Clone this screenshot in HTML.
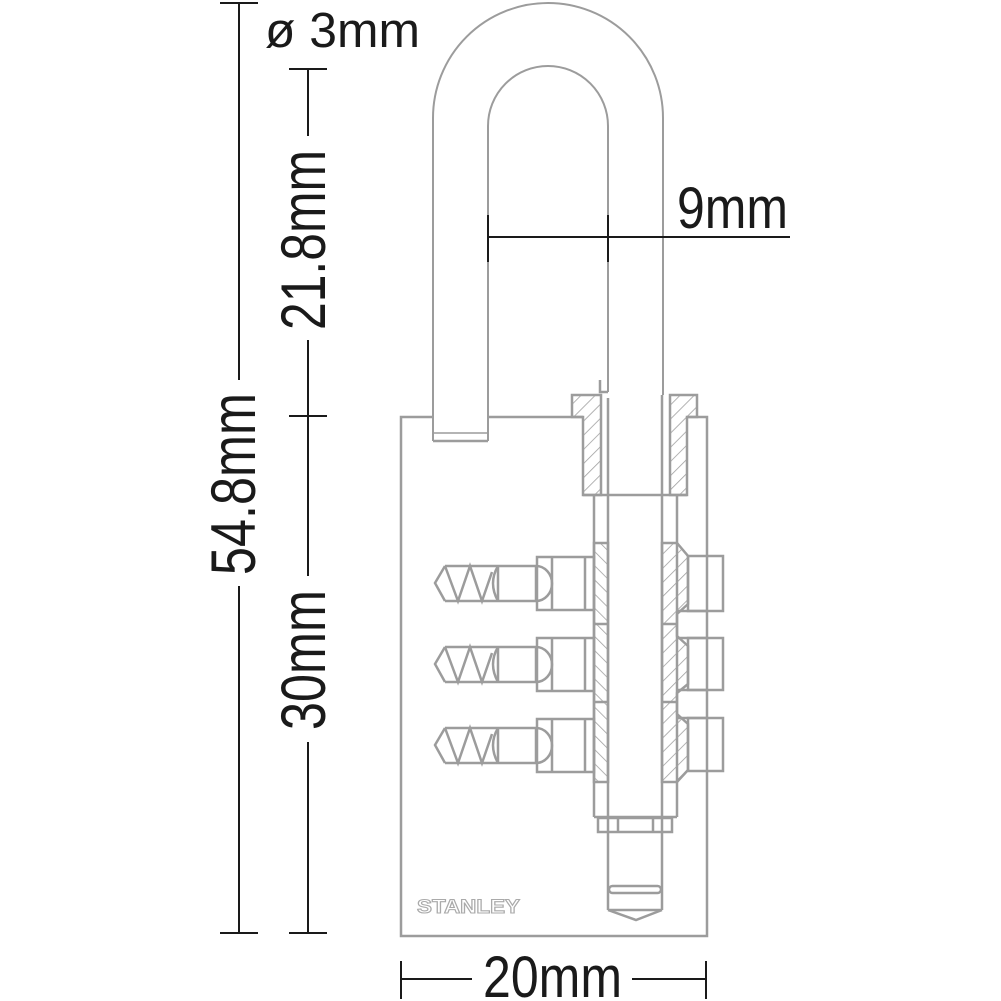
<!DOCTYPE html>
<html><head><meta charset="utf-8"><style>html,body{margin:0;padding:0;background:#fff}svg{display:block}</style></head><body>
<svg width="1001" height="1001" viewBox="0 0 1001 1001" xmlns="http://www.w3.org/2000/svg">
<defs>
<pattern id="h" patternUnits="userSpaceOnUse" width="10" height="10" patternTransform="rotate(45)">
<line x1="0" y1="0" x2="0" y2="10" stroke="#a0a0a0" stroke-width="1.6"/>
</pattern>
<pattern id="h2" patternUnits="userSpaceOnUse" width="10" height="10" patternTransform="rotate(-45)">
<line x1="0" y1="0" x2="0" y2="10" stroke="#a0a0a0" stroke-width="1.6"/>
</pattern>
<g id="pin">
<polyline points="445,566 435,583 445,601" />
<line x1="445" y1="566" x2="498" y2="566"/>
<line x1="445" y1="601" x2="498" y2="601"/>
<polyline points="445,566 458,601 470,566 482,601 492,572"/>
<path d="M498,566 Q488,583 498,601"/>
<line x1="498" y1="566" x2="498" y2="601"/>
<line x1="498" y1="566" x2="536" y2="566"/>
<line x1="498" y1="601" x2="536" y2="601"/>
<line x1="536" y1="566" x2="536" y2="601"/>
<path d="M536,566 A16,17.5 0 0 1 536,601"/>
<rect x="537" y="557" width="57" height="53"/>
<line x1="552" y1="557" x2="552" y2="610"/>
<line x1="585" y1="557" x2="585" y2="610"/>
</g>
</defs>

<g fill="none" stroke="#9c9c9c" stroke-width="2.5">
<path d="M433,441 L433,118 A115,115 0 0 1 663,118 L663,395" stroke-width="2"/>
<path d="M488,441 L488,126 A60,60 0 0 1 608,126 L608,392" stroke-width="2"/>
<line x1="433" y1="441" x2="488" y2="441"/>
<line x1="433" y1="433" x2="488" y2="433" stroke-width="1.5"/>
<polyline points="600,380 600,392 608,392"/>
<polyline points="433,417 401,417 401,936 707,936 707,417 687,417"/>
<line x1="488" y1="417" x2="583" y2="417"/>
<path d="M572,395 L601,395 L601,495 L583,495 L583,417 L572,417 Z" fill="url(#h)"/>
<path d="M670,395 L697,395 L697,417 L687,417 L687,495 L670,495 Z" fill="url(#h)"/>
<line x1="583" y1="495" x2="687" y2="495"/>
<line x1="608" y1="398" x2="608" y2="910"/>
<line x1="662" y1="395" x2="662" y2="910"/>
<line x1="594" y1="495" x2="594" y2="817"/>
<line x1="677" y1="495" x2="677" y2="817"/>
<line x1="594" y1="817" x2="677" y2="817"/>
<rect x="594" y="543" width="14" height="239" fill="url(#h2)"/>
<line x1="594" y1="624" x2="608" y2="624"/>
<line x1="594" y1="702" x2="608" y2="702"/>
<path d="M662,543 L677,543 L688,556 L688,604 L677,614 L677,636 L688,646 L688,684 L677,693 L677,714 L688,724 L688,770 L677,782 L662,782 Z" fill="url(#h)"/>
<line x1="662" y1="624" x2="677" y2="624"/>
<line x1="662" y1="702" x2="677" y2="702"/>
<rect x="688" y="556" width="35" height="55"/>
<rect x="688" y="638" width="35" height="52"/>
<rect x="688" y="718" width="35" height="53"/>
<line x1="677" y1="611" x2="707" y2="611"/>
<line x1="677" y1="638" x2="707" y2="638"/>
<line x1="677" y1="690" x2="707" y2="690"/>
<line x1="677" y1="718" x2="707" y2="718"/>
<rect x="598" y="818" width="74" height="14"/>
<line x1="618" y1="818" x2="618" y2="832"/>
<line x1="653" y1="818" x2="653" y2="832"/>
<polyline points="608,910 636,920 662,910"/>
<line x1="608" y1="910" x2="662" y2="910"/>
<rect x="609" y="886" width="52" height="7" rx="3.5"/>
<use href="#pin"/>
<use href="#pin" y="81"/>
<use href="#pin" y="162"/>
</g>
<text x="417" y="913" font-family="Liberation Sans, sans-serif" font-weight="bold" font-size="19" fill="#fff" stroke="#aaa" stroke-width="1.1" textLength="103" lengthAdjust="spacingAndGlyphs">STANLEY</text>

<g stroke="#1a1a1a" stroke-width="2" fill="none">
<line x1="220" y1="3" x2="258" y2="3"/>
<line x1="239" y1="3" x2="239" y2="380"/>
<line x1="239" y1="586" x2="239" y2="933"/>
<line x1="220" y1="933" x2="258" y2="933"/>
<line x1="289" y1="69" x2="327" y2="69"/>
<line x1="308" y1="69" x2="308" y2="136"/>
<line x1="308" y1="340" x2="308" y2="576"/>
<line x1="289" y1="416" x2="327" y2="416"/>
<line x1="308" y1="742" x2="308" y2="933"/>
<line x1="289" y1="933" x2="327" y2="933"/>
<line x1="488" y1="237" x2="790" y2="237"/>
<line x1="488" y1="215" x2="488" y2="262"/>
<line x1="608" y1="215" x2="608" y2="262"/>
<line x1="401" y1="979" x2="472" y2="979"/>
<line x1="632" y1="979" x2="706" y2="979"/>
<line x1="401" y1="961" x2="401" y2="999"/>
<line x1="706" y1="961" x2="706" y2="999"/>
</g>
<g font-family="Liberation Sans, sans-serif" fill="#1a1a1a">
<text x="265" y="47" font-size="49" textLength="155" lengthAdjust="spacingAndGlyphs">ø 3mm</text>
<text x="677" y="228" font-size="58" textLength="111" lengthAdjust="spacingAndGlyphs">9mm</text>
<text x="483" y="997" font-size="58" textLength="139" lengthAdjust="spacingAndGlyphs">20mm</text>
<text transform="translate(325,330) rotate(-90)" font-size="63" textLength="180" lengthAdjust="spacingAndGlyphs">21.8mm</text>
<text transform="translate(325,730) rotate(-90)" font-size="63" textLength="140" lengthAdjust="spacingAndGlyphs">30mm</text>
<text transform="translate(255,575) rotate(-90)" font-size="63" textLength="182" lengthAdjust="spacingAndGlyphs">54.8mm</text>
</g>
</svg>
</body></html>
